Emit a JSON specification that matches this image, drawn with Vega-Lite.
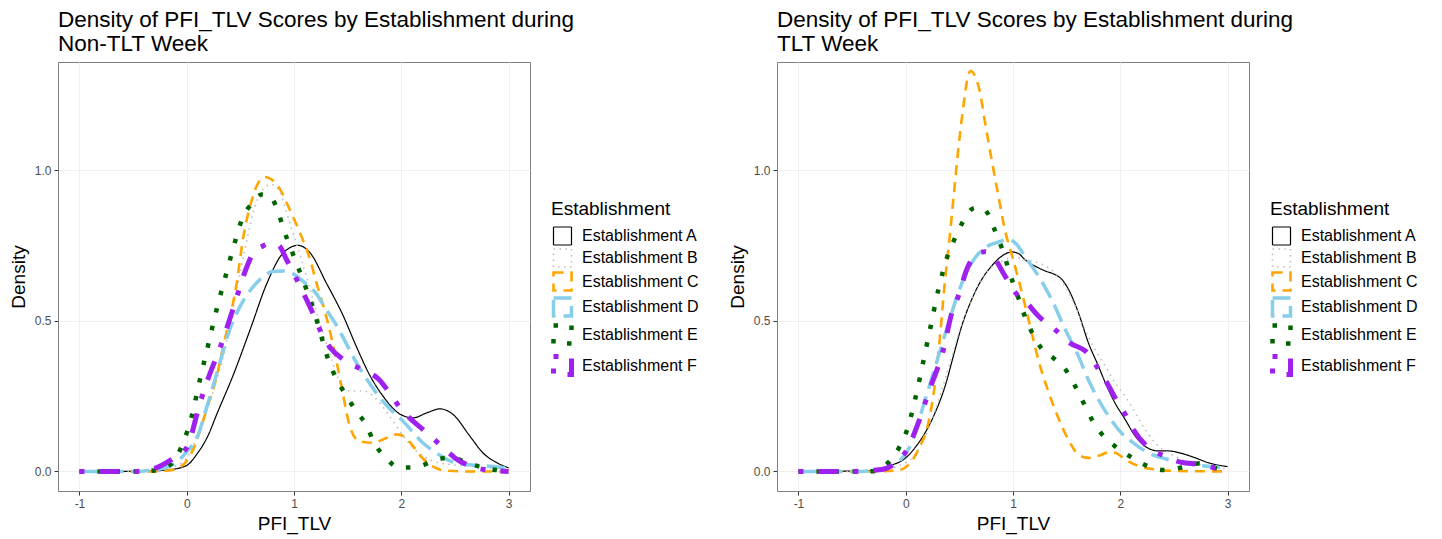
{
 "$schema": "https://vega.github.io/schema/vega-lite/v6.json",
 "padding": {"left": 8, "top": 8, "right": 5, "bottom": 5},
 "background": "white",
 "config": {
   "font": "Liberation Sans",
   "view": {"stroke": "#7f7f7f", "strokeWidth": 1},
   "axis": {"domain": false, "grid": true, "gridColor": "#f0f0f0", "gridWidth": 1, "tickColor": "#333333", "tickSize": 4, "labelColor": "#4d4d4d", "labelFontSize": 12, "labelPadding": 3, "titleFontSize": 19, "titleFontWeight": "normal", "titleColor": "black"},
   "axisX": {"titlePadding": 5},
   "axisY": {"titlePadding": 6},
   "title": {"fontSize": 22.5, "fontWeight": "normal", "anchor": "start", "frame": "group", "color": "black", "offset": 7, "lineHeight": 24},
   "legend": {"titleFontSize": 19, "titleFontWeight": "normal", "titleColor": "black", "labelFontSize": 16, "labelColor": "black", "symbolType": "square", "symbolSize": 324, "symbolStrokeWidth": 2, "labelOffset": 8, "rowPadding": -7, "titlePadding": 7}
 },
 "datasets": {
  "non": [
   {"est":"A","x":-1,"y":0},{"est":"A","x":-0.6,"y":0},{"est":"A","x":-0.3,"y":0.002},{"est":"A","x":-0.15,"y":0.006},{"est":"A","x":0,"y":0.02},{"est":"A","x":0.1,"y":0.06},{"est":"A","x":0.2,"y":0.12},{"est":"A","x":0.28,"y":0.19},{"est":"A","x":0.43,"y":0.317},{"est":"A","x":0.59,"y":0.47},{"est":"A","x":0.75,"y":0.627},{"est":"A","x":0.9,"y":0.726},{"est":"A","x":1.04,"y":0.751},{"est":"A","x":1.15,"y":0.726},{"est":"A","x":1.3,"y":0.627},{"est":"A","x":1.46,"y":0.516},{"est":"A","x":1.58,"y":0.416},{"est":"A","x":1.71,"y":0.317},{"est":"A","x":1.83,"y":0.25},{"est":"A","x":1.99,"y":0.19},{"est":"A","x":2.11,"y":0.178},{"est":"A","x":2.24,"y":0.195},{"est":"A","x":2.36,"y":0.208},{"est":"A","x":2.48,"y":0.19},{"est":"A","x":2.64,"y":0.117},{"est":"A","x":2.76,"y":0.062},{"est":"A","x":2.89,"y":0.029},{"est":"A","x":3,"y":0.012},
   {"est":"B","x":-1,"y":0},{"est":"B","x":-0.5,"y":0},{"est":"B","x":-0.3,"y":0.003},{"est":"B","x":-0.15,"y":0.012},{"est":"B","x":0,"y":0.045},{"est":"B","x":0.12,"y":0.14},{"est":"B","x":0.25,"y":0.27},{"est":"B","x":0.34,"y":0.38},{"est":"B","x":0.43,"y":0.54},{"est":"B","x":0.53,"y":0.715},{"est":"B","x":0.62,"y":0.86},{"est":"B","x":0.71,"y":0.937},{"est":"B","x":0.79,"y":0.953},{"est":"B","x":0.87,"y":0.925},{"est":"B","x":0.96,"y":0.826},{"est":"B","x":1.06,"y":0.715},{"est":"B","x":1.15,"y":0.605},{"est":"B","x":1.24,"y":0.494},{"est":"B","x":1.34,"y":0.383},{"est":"B","x":1.43,"y":0.295},{"est":"B","x":1.52,"y":0.267},{"est":"B","x":1.65,"y":0.267},{"est":"B","x":1.77,"y":0.24},{"est":"B","x":1.89,"y":0.184},{"est":"B","x":2.02,"y":0.117},{"est":"B","x":2.14,"y":0.068},{"est":"B","x":2.3,"y":0.034},{"est":"B","x":2.45,"y":0.023},{"est":"B","x":2.64,"y":0.018},{"est":"B","x":2.8,"y":0.012},{"est":"B","x":3,"y":0.004},
   {"est":"C","x":-1,"y":0},{"est":"C","x":-0.3,"y":0},{"est":"C","x":-0.12,"y":0.006},{"est":"C","x":0,"y":0.035},{"est":"C","x":0.062,"y":0.075},{"est":"C","x":0.186,"y":0.206},{"est":"C","x":0.28,"y":0.317},{"est":"C","x":0.34,"y":0.416},{"est":"C","x":0.42,"y":0.538},{"est":"C","x":0.466,"y":0.626},{"est":"C","x":0.528,"y":0.78},{"est":"C","x":0.59,"y":0.88},{"est":"C","x":0.652,"y":0.948},{"est":"C","x":0.73,"y":0.978},{"est":"C","x":0.79,"y":0.97},{"est":"C","x":0.87,"y":0.937},{"est":"C","x":0.96,"y":0.87},{"est":"C","x":1.056,"y":0.792},{"est":"C","x":1.15,"y":0.704},{"est":"C","x":1.21,"y":0.626},{"est":"C","x":1.3,"y":0.516},{"est":"C","x":1.4,"y":0.36},{"est":"C","x":1.46,"y":0.25},{"est":"C","x":1.52,"y":0.15},{"est":"C","x":1.61,"y":0.1},{"est":"C","x":1.74,"y":0.095},{"est":"C","x":1.83,"y":0.106},{"est":"C","x":1.96,"y":0.123},{"est":"C","x":2.02,"y":0.117},{"est":"C","x":2.11,"y":0.084},{"est":"C","x":2.17,"y":0.055},{"est":"C","x":2.27,"y":0.022},{"est":"C","x":2.39,"y":0.004},{"est":"C","x":2.6,"y":0},{"est":"C","x":3,"y":0},
   {"est":"D","x":-1,"y":0},{"est":"D","x":-0.5,"y":0},{"est":"D","x":-0.3,"y":0.005},{"est":"D","x":-0.2,"y":0.012},{"est":"D","x":-0.1,"y":0.03},{"est":"D","x":0,"y":0.065},{"est":"D","x":0.1,"y":0.117},{"est":"D","x":0.2,"y":0.23},{"est":"D","x":0.3,"y":0.35},{"est":"D","x":0.4,"y":0.47},{"est":"D","x":0.5,"y":0.55},{"est":"D","x":0.6,"y":0.605},{"est":"D","x":0.7,"y":0.643},{"est":"D","x":0.8,"y":0.664},{"est":"D","x":0.9,"y":0.666},{"est":"D","x":1,"y":0.655},{"est":"D","x":1.1,"y":0.627},{"est":"D","x":1.2,"y":0.594},{"est":"D","x":1.3,"y":0.538},{"est":"D","x":1.4,"y":0.483},{"est":"D","x":1.5,"y":0.416},{"est":"D","x":1.6,"y":0.35},{"est":"D","x":1.7,"y":0.295},{"est":"D","x":1.8,"y":0.245},{"est":"D","x":1.9,"y":0.206},{"est":"D","x":2,"y":0.173},{"est":"D","x":2.1,"y":0.134},{"est":"D","x":2.2,"y":0.095},{"est":"D","x":2.3,"y":0.068},{"est":"D","x":2.4,"y":0.045},{"est":"D","x":2.5,"y":0.029},{"est":"D","x":2.7,"y":0.02},{"est":"D","x":2.9,"y":0.015},{"est":"D","x":3,"y":0.01},
   {"est":"E","x":-1,"y":0},{"est":"E","x":-0.5,"y":0},{"est":"E","x":-0.3,"y":0.003},{"est":"E","x":-0.15,"y":0.023},{"est":"E","x":-0.06,"y":0.073},{"est":"E","x":0,"y":0.128},{"est":"E","x":0.047,"y":0.184},{"est":"E","x":0.124,"y":0.306},{"est":"E","x":0.2,"y":0.42},{"est":"E","x":0.28,"y":0.54},{"est":"E","x":0.363,"y":0.65},{"est":"E","x":0.456,"y":0.77},{"est":"E","x":0.503,"y":0.826},{"est":"E","x":0.62,"y":0.895},{"est":"E","x":0.7,"y":0.92},{"est":"E","x":0.76,"y":0.918},{"est":"E","x":0.85,"y":0.865},{"est":"E","x":0.9,"y":0.807},{"est":"E","x":0.96,"y":0.75},{"est":"E","x":1.025,"y":0.69},{"est":"E","x":1.1,"y":0.62},{"est":"E","x":1.18,"y":0.54},{"est":"E","x":1.27,"y":0.43},{"est":"E","x":1.32,"y":0.37},{"est":"E","x":1.4,"y":0.305},{"est":"E","x":1.49,"y":0.25},{"est":"E","x":1.58,"y":0.2},{"est":"E","x":1.68,"y":0.15},{"est":"E","x":1.74,"y":0.1},{"est":"E","x":1.85,"y":0.048},{"est":"E","x":1.98,"y":0.013},{"est":"E","x":2.14,"y":0.014},{"est":"E","x":2.3,"y":0.036},{"est":"E","x":2.47,"y":0.046},{"est":"E","x":2.63,"y":0.026},{"est":"E","x":2.8,"y":0.01},{"est":"E","x":2.95,"y":0.002},{"est":"E","x":3,"y":0.001},
   {"est":"F","x":-1,"y":0},{"est":"F","x":-0.5,"y":0},{"est":"F","x":-0.3,"y":0.01},{"est":"F","x":-0.14,"y":0.04},{"est":"F","x":0,"y":0.079},{"est":"F","x":0.124,"y":0.228},{"est":"F","x":0.186,"y":0.295},{"est":"F","x":0.34,"y":0.44},{"est":"F","x":0.45,"y":0.56},{"est":"F","x":0.55,"y":0.67},{"est":"F","x":0.62,"y":0.725},{"est":"F","x":0.71,"y":0.749},{"est":"F","x":0.8,"y":0.758},{"est":"F","x":0.86,"y":0.75},{"est":"F","x":0.93,"y":0.704},{"est":"F","x":1.04,"y":0.627},{"est":"F","x":1.16,"y":0.538},{"est":"F","x":1.27,"y":0.45},{"est":"F","x":1.34,"y":0.41},{"est":"F","x":1.46,"y":0.372},{"est":"F","x":1.63,"y":0.339},{"est":"F","x":1.79,"y":0.306},{"est":"F","x":1.89,"y":0.261},{"est":"F","x":2,"y":0.206},{"est":"F","x":2.11,"y":0.167},{"est":"F","x":2.2,"y":0.14},{"est":"F","x":2.41,"y":0.073},{"est":"F","x":2.5,"y":0.045},{"est":"F","x":2.67,"y":0.015},{"est":"F","x":2.89,"y":0.002},{"est":"F","x":3,"y":0}
  ],
  "tlt": [
   {"est":"A","x":-1,"y":0},{"est":"A","x":-0.5,"y":0.001},{"est":"A","x":-0.3,"y":0.004},{"est":"A","x":-0.16,"y":0.018},{"est":"A","x":0,"y":0.045},{"est":"A","x":0.087,"y":0.079},{"est":"A","x":0.18,"y":0.128},{"est":"A","x":0.274,"y":0.195},{"est":"A","x":0.367,"y":0.283},{"est":"A","x":0.444,"y":0.383},{"est":"A","x":0.522,"y":0.483},{"est":"A","x":0.615,"y":0.571},{"est":"A","x":0.709,"y":0.638},{"est":"A","x":0.8,"y":0.682},{"est":"A","x":0.895,"y":0.715},{"est":"A","x":0.988,"y":0.729},{"est":"A","x":1.05,"y":0.724},{"est":"A","x":1.11,"y":0.704},{"est":"A","x":1.206,"y":0.682},{"est":"A","x":1.3,"y":0.666},{"est":"A","x":1.39,"y":0.654},{"est":"A","x":1.455,"y":0.638},{"est":"A","x":1.517,"y":0.605},{"est":"A","x":1.61,"y":0.527},{"est":"A","x":1.703,"y":0.427},{"est":"A","x":1.796,"y":0.35},{"est":"A","x":1.86,"y":0.295},{"est":"A","x":1.95,"y":0.228},{"est":"A","x":2.045,"y":0.173},{"est":"A","x":2.14,"y":0.117},{"est":"A","x":2.23,"y":0.084},{"est":"A","x":2.356,"y":0.068},{"est":"A","x":2.45,"y":0.068},{"est":"A","x":2.57,"y":0.06},{"est":"A","x":2.7,"y":0.045},{"est":"A","x":2.82,"y":0.029},{"est":"A","x":3,"y":0.016},
   {"est":"B","x":-1,"y":0},{"est":"B","x":-0.5,"y":0},{"est":"B","x":-0.3,"y":0.003},{"est":"B","x":-0.2,"y":0.007},{"est":"B","x":-0.07,"y":0.018},{"est":"B","x":0.087,"y":0.056},{"est":"B","x":0.2,"y":0.13},{"est":"B","x":0.3,"y":0.23},{"est":"B","x":0.4,"y":0.345},{"est":"B","x":0.5,"y":0.465},{"est":"B","x":0.6,"y":0.56},{"est":"B","x":0.7,"y":0.635},{"est":"B","x":0.8,"y":0.678},{"est":"B","x":0.9,"y":0.7},{"est":"B","x":1.02,"y":0.71},{"est":"B","x":1.14,"y":0.702},{"est":"B","x":1.27,"y":0.688},{"est":"B","x":1.39,"y":0.66},{"est":"B","x":1.485,"y":0.616},{"est":"B","x":1.58,"y":0.55},{"est":"B","x":1.67,"y":0.472},{"est":"B","x":1.765,"y":0.405},{"est":"B","x":1.86,"y":0.35},{"est":"B","x":1.95,"y":0.295},{"est":"B","x":2.045,"y":0.25},{"est":"B","x":2.14,"y":0.195},{"est":"B","x":2.23,"y":0.14},{"est":"B","x":2.325,"y":0.095},{"est":"B","x":2.45,"y":0.062},{"est":"B","x":2.57,"y":0.04},{"est":"B","x":2.73,"y":0.023},{"est":"B","x":3,"y":0.009},
   {"est":"C","x":-1,"y":0},{"est":"C","x":-0.3,"y":0},{"est":"C","x":-0.068,"y":0.004},{"est":"C","x":0.056,"y":0.034},{"est":"C","x":0.118,"y":0.073},{"est":"C","x":0.211,"y":0.162},{"est":"C","x":0.274,"y":0.295},{"est":"C","x":0.32,"y":0.45},{"est":"C","x":0.367,"y":0.638},{"est":"C","x":0.398,"y":0.737},{"est":"C","x":0.444,"y":0.904},{"est":"C","x":0.49,"y":1.07},{"est":"C","x":0.538,"y":1.214},{"est":"C","x":0.584,"y":1.318},{"est":"C","x":0.606,"y":1.33},{"est":"C","x":0.646,"y":1.313},{"est":"C","x":0.693,"y":1.258},{"est":"C","x":0.74,"y":1.158},{"est":"C","x":0.8,"y":1.037},{"est":"C","x":0.864,"y":0.915},{"est":"C","x":0.926,"y":0.8},{"est":"C","x":0.988,"y":0.72},{"est":"C","x":1.05,"y":0.64},{"est":"C","x":1.11,"y":0.555},{"est":"C","x":1.175,"y":0.46},{"est":"C","x":1.237,"y":0.37},{"est":"C","x":1.33,"y":0.265},{"est":"C","x":1.42,"y":0.18},{"est":"C","x":1.517,"y":0.105},{"est":"C","x":1.61,"y":0.056},{"est":"C","x":1.7,"y":0.045},{"est":"C","x":1.8,"y":0.052},{"est":"C","x":1.89,"y":0.063},{"est":"C","x":1.95,"y":0.062},{"est":"C","x":2.045,"y":0.04},{"est":"C","x":2.17,"y":0.018},{"est":"C","x":2.32,"y":0.007},{"est":"C","x":2.48,"y":0.002},{"est":"C","x":3,"y":0},
   {"est":"D","x":-1,"y":0},{"est":"D","x":-0.5,"y":0},{"est":"D","x":-0.3,"y":0.003},{"est":"D","x":-0.2,"y":0.008},{"est":"D","x":-0.1,"y":0.022},{"est":"D","x":0,"y":0.06},{"est":"D","x":0.056,"y":0.095},{"est":"D","x":0.118,"y":0.165},{"est":"D","x":0.211,"y":0.272},{"est":"D","x":0.305,"y":0.383},{"est":"D","x":0.4,"y":0.494},{"est":"D","x":0.49,"y":0.594},{"est":"D","x":0.615,"y":0.693},{"est":"D","x":0.74,"y":0.743},{"est":"D","x":0.864,"y":0.762},{"est":"D","x":0.957,"y":0.771},{"est":"D","x":1.035,"y":0.754},{"est":"D","x":1.11,"y":0.715},{"est":"D","x":1.237,"y":0.649},{"est":"D","x":1.36,"y":0.571},{"est":"D","x":1.486,"y":0.472},{"est":"D","x":1.61,"y":0.383},{"est":"D","x":1.7,"y":0.306},{"est":"D","x":1.796,"y":0.239},{"est":"D","x":1.89,"y":0.184},{"est":"D","x":2.01,"y":0.128},{"est":"D","x":2.14,"y":0.09},{"est":"D","x":2.26,"y":0.062},{"est":"D","x":2.42,"y":0.042},{"est":"D","x":2.57,"y":0.029},{"est":"D","x":2.79,"y":0.018},{"est":"D","x":3,"y":0.011},
   {"est":"E","x":-1,"y":0},{"est":"E","x":-0.5,"y":0},{"est":"E","x":-0.3,"y":0.001},{"est":"E","x":-0.16,"y":0.03},{"est":"E","x":-0.062,"y":0.079},{"est":"E","x":0.009,"y":0.134},{"est":"E","x":0.093,"y":0.248},{"est":"E","x":0.165,"y":0.367},{"est":"E","x":0.233,"y":0.483},{"est":"E","x":0.305,"y":0.605},{"est":"E","x":0.392,"y":0.718},{"est":"E","x":0.454,"y":0.771},{"est":"E","x":0.531,"y":0.828},{"est":"E","x":0.63,"y":0.874},{"est":"E","x":0.69,"y":0.877},{"est":"E","x":0.765,"y":0.857},{"est":"E","x":0.827,"y":0.804},{"est":"E","x":0.889,"y":0.749},{"est":"E","x":0.995,"y":0.632},{"est":"E","x":1.05,"y":0.577},{"est":"E","x":1.11,"y":0.516},{"est":"E","x":1.175,"y":0.463},{"est":"E","x":1.26,"y":0.411},{"est":"E","x":1.386,"y":0.374},{"est":"E","x":1.5,"y":0.333},{"est":"E","x":1.58,"y":0.283},{"est":"E","x":1.66,"y":0.226},{"est":"E","x":1.734,"y":0.173},{"est":"E","x":1.83,"y":0.123},{"est":"E","x":1.95,"y":0.084},{"est":"E","x":2.09,"y":0.05},{"est":"E","x":2.24,"y":0.02},{"est":"E","x":2.4,"y":0.005},{"est":"E","x":2.57,"y":0.013},{"est":"E","x":2.74,"y":0.027},{"est":"E","x":2.9,"y":0.01},{"est":"E","x":3,"y":0.003},
   {"est":"F","x":-1,"y":0},{"est":"F","x":-0.5,"y":0},{"est":"F","x":-0.3,"y":0.004},{"est":"F","x":-0.19,"y":0.009},{"est":"F","x":-0.1,"y":0.028},{"est":"F","x":0,"y":0.065},{"est":"F","x":0.118,"y":0.162},{"est":"F","x":0.211,"y":0.261},{"est":"F","x":0.351,"y":0.405},{"est":"F","x":0.43,"y":0.527},{"est":"F","x":0.49,"y":0.582},{"est":"F","x":0.569,"y":0.671},{"est":"F","x":0.678,"y":0.726},{"est":"F","x":0.74,"y":0.73},{"est":"F","x":0.8,"y":0.72},{"est":"F","x":0.926,"y":0.649},{"est":"F","x":1.05,"y":0.582},{"est":"F","x":1.128,"y":0.56},{"est":"F","x":1.237,"y":0.516},{"est":"F","x":1.39,"y":0.472},{"est":"F","x":1.53,"y":0.427},{"est":"F","x":1.69,"y":0.395},{"est":"F","x":1.83,"y":0.32},{"est":"F","x":1.874,"y":0.295},{"est":"F","x":1.967,"y":0.235},{"est":"F","x":2.045,"y":0.19},{"est":"F","x":2.12,"y":0.14},{"est":"F","x":2.25,"y":0.083},{"est":"F","x":2.42,"y":0.05},{"est":"F","x":2.57,"y":0.03},{"est":"F","x":2.76,"y":0.023},{"est":"F","x":2.93,"y":0.007},{"est":"F","x":3,"y":0.004}
  ]
 },
 "hconcat": [
  {
   "width": 472, "height": 429,
   "title": {"text": ["Density of PFI_TLV Scores by Establishment during", "Non-TLT Week"]},
   "data": {"name": "non"},
   "transform": [{"calculate": "datum.est", "as": "grp"}],
   "mark": {"type": "line", "interpolate": "monotone", "strokeCap": "butt", "strokeJoin": "round"},
   "encoding": {
    "x": {"field": "x", "type": "quantitative", "title": "PFI_TLV", "scale": {"domain": [-1.2, 3.2], "nice": false, "zero": false}, "axis": {"values": [-1, 0, 1, 2, 3], "labelExpr": "'' + datum.value"}},
    "y": {"field": "y", "type": "quantitative", "title": "Density", "scale": {"domain": [-0.065, 1.36], "nice": false, "zero": false}, "axis": {"values": [0, 0.5, 1], "format": ".1f"}},
    "color": {"field": "est", "type": "nominal", "title": "Establishment", "scale": {"domain": ["A","B","C","D","E","F"], "range": ["#000000","#bebebe","#ffa500","#87ceeb","#006400","#a020f0"]}, "legend": {"orient": "none", "legendX": 493, "legendY": 138, "labelExpr": "'Establishment ' + datum.label"}},
    "strokeDash": {"field": "est", "type": "nominal", "title": "Establishment", "scale": {"domain": ["A","B","C","D","E","F"], "range": [[1,0],[1.5,4.5],[10,7],[18,8],[4.5,13.5],[5,15,20,15]]}, "legend": {"orient": "none", "legendX": 493, "legendY": 138, "labelExpr": "'Establishment ' + datum.label"}},
    "strokeWidth": {"field": "grp", "type": "ordinal", "scale": {"type": "ordinal", "domain": ["A","B","C","D","E","F"], "range": [1.2, 1.6, 2.6, 3.5, 4.5, 5]}, "legend": null}
   }
  },
  {
   "width": 472, "height": 429,
   "title": {"text": ["Density of PFI_TLV Scores by Establishment during", "TLT Week"]},
   "data": {"name": "tlt"},
   "transform": [{"calculate": "datum.est", "as": "grp"}],
   "mark": {"type": "line", "interpolate": "monotone", "strokeCap": "butt", "strokeJoin": "round"},
   "encoding": {
    "x": {"field": "x", "type": "quantitative", "title": "PFI_TLV", "scale": {"domain": [-1.2, 3.2], "nice": false, "zero": false}, "axis": {"values": [-1, 0, 1, 2, 3], "labelExpr": "'' + datum.value"}},
    "y": {"field": "y", "type": "quantitative", "title": "Density", "scale": {"domain": [-0.065, 1.36], "nice": false, "zero": false}, "axis": {"values": [0, 0.5, 1], "format": ".1f"}},
    "color": {"field": "est", "type": "nominal", "title": "Establishment", "scale": {"domain": ["A","B","C","D","E","F"], "range": ["#000000","#bebebe","#ffa500","#87ceeb","#006400","#a020f0"]}, "legend": {"orient": "none", "legendX": 493, "legendY": 138, "labelExpr": "'Establishment ' + datum.label"}},
    "strokeDash": {"field": "est", "type": "nominal", "title": "Establishment", "scale": {"domain": ["A","B","C","D","E","F"], "range": [[1,0],[1.5,4.5],[10,7],[18,8],[4.5,13.5],[5,15,20,15]]}, "legend": {"orient": "none", "legendX": 493, "legendY": 138, "labelExpr": "'Establishment ' + datum.label"}},
    "strokeWidth": {"field": "grp", "type": "ordinal", "scale": {"type": "ordinal", "domain": ["A","B","C","D","E","F"], "range": [1.2, 1.6, 2.6, 3.5, 4.5, 5]}, "legend": null}
   }
  }
 ],
 "spacing": 27,
 "resolve": {"scale": {"color": "independent", "strokeDash": "independent", "strokeWidth": "independent"}}
}
